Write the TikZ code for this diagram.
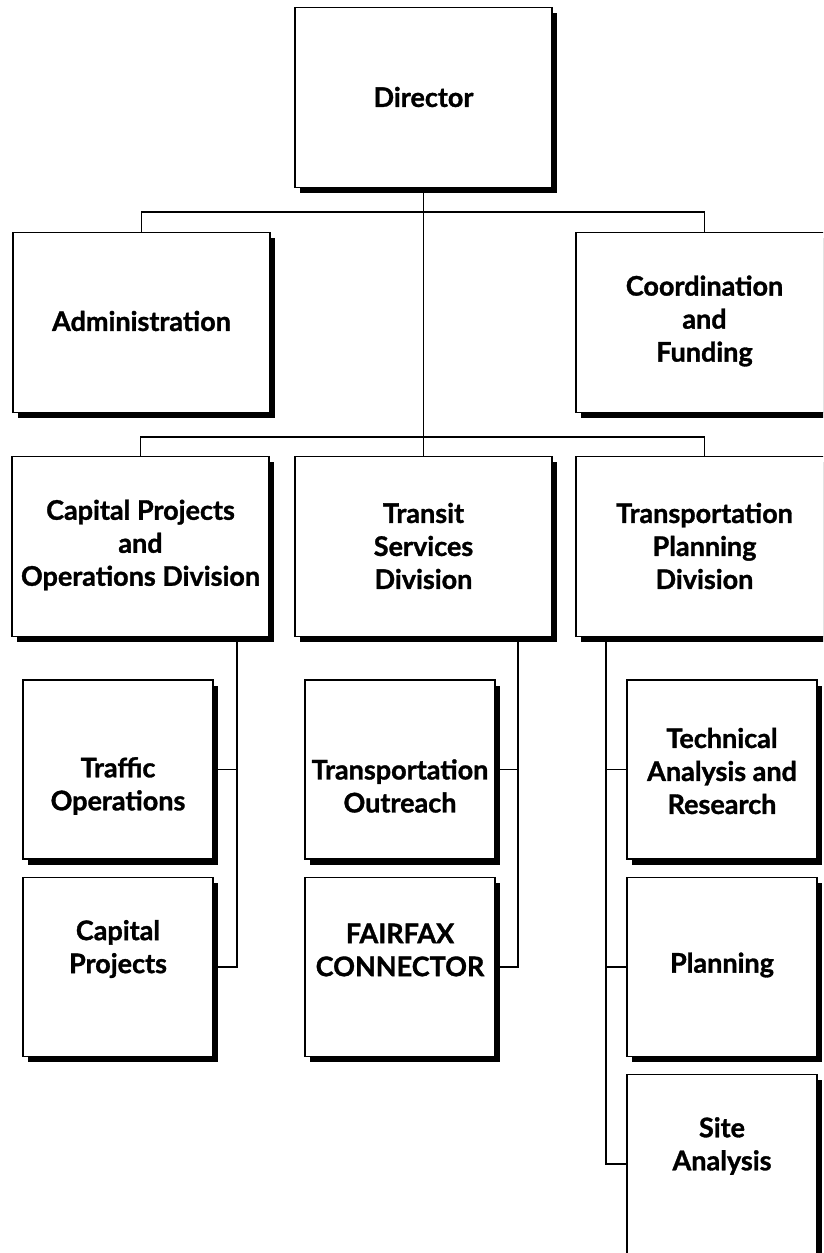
\documentclass[tikz,border=0pt]{standalone}
\usepackage{fontspec}
\setmainfont{Lato}[BoldFeatures={FakeBold=1.2}]
\usetikzlibrary{shadows}
\begin{document}
\begin{tikzpicture}[x=1pt,y=-1pt,
  boxbase/.style={draw, line width=1.5pt, fill=white, inner sep=0pt,
    drop shadow={shadow xshift=5pt, shadow yshift=-5.5pt, fill=black, opacity=1}},
  bigbox/.style={boxbase, minimum width=257pt, minimum height=180pt},
  smallbox/.style={boxbase, minimum width=190pt, minimum height=179pt},
  lbl/.style={align=center, inner sep=0pt, font=\fontsize{27}{33}\selectfont\bfseries},
  conn/.style={line width=1.6pt}]
\useasboundingbox (0,0) rectangle (823,1253);
\clip (0,0) rectangle (823,1253);
% boxes
\node[bigbox] (dir) at (423.5,97.5) {};
\node[bigbox] (adm) at (141.5,322.5) {};
\node[bigbox] (coord) at (704.5,322.5) {};
\node[bigbox] (capdiv) at (140.5,546.5) {};
\node[bigbox] (transit) at (423.5,546.5) {};
\node[bigbox] (plandiv) at (704.5,546.5) {};
\node[smallbox] (traffic) at (118,769.5) {};
\node[smallbox] (capproj) at (118,967) {};
\node[smallbox] (outreach) at (400,769.5) {};
\node[smallbox] (fairfax) at (400,967) {};
\node[smallbox] (tech) at (722,769.5) {};
\node[smallbox] (planning) at (722,967) {};
\node[smallbox] (site) at (722,1164) {};
% labels
\node[lbl] (dir-t) at (423.5,97) {Director};
\node[lbl] (adm-t) at (141.5,321) {Administration};
\node[lbl] (coord-t) at (704.5,321) {Coordination\\and\\Funding};
\node[lbl] (capdiv-t) at (140.5,545) {Capital Projects\\and\\Operations Division};
\node[lbl] (transit-t) at (423.5,546) {Transit\\Services\\Division};
\node[lbl] (plandiv-t) at (704.5,546) {Transportation\\Planning\\Division};
\node[lbl] (traffic-t) at (118,786) {Traffic\\Operations};
\node[lbl] (capproj-t) at (118,949) {Capital\\Projects};
\node[lbl] (outreach-t) at (400,786) {Transportation\\Outreach};
\node[lbl] (fairfax-t) at (400,950) {FAIRFAX\\CONNECTOR};
\node[lbl] (tech-t) at (722,771) {Technical\\Analysis and\\Research};
\node[lbl] (planning-t) at (722,965) {Planning};
\node[lbl] (site-t) at (722,1146) {Site\\Analysis};
% bus coordinates
\coordinate (b1) at (423.5,212);
\coordinate (b2) at (423.5,437);
\coordinate (cv) at (237,0);
\coordinate (tv) at (518,0);
\coordinate (pv) at (606,0);
% connectors
\draw[conn] (dir.south) -- (b2);
\draw[conn] (adm.north) |- (b1) -| (coord.north);
\draw[conn] (capdiv.north) |- (b2) -| (plandiv.north);
\draw[conn] (b2) -- (transit.north);
\draw[conn] (cv |- capdiv.south) |- (capproj.east);
\draw[conn] (cv |- traffic.east) -- (traffic.east);
\draw[conn] (tv |- transit.south) |- (fairfax.east);
\draw[conn] (tv |- outreach.east) -- (outreach.east);
\draw[conn] (pv |- plandiv.south) |- (site.west);
\draw[conn] (pv |- tech.west) -- (tech.west);
\draw[conn] (pv |- planning.west) -- (planning.west);
\end{tikzpicture}
\end{document}
